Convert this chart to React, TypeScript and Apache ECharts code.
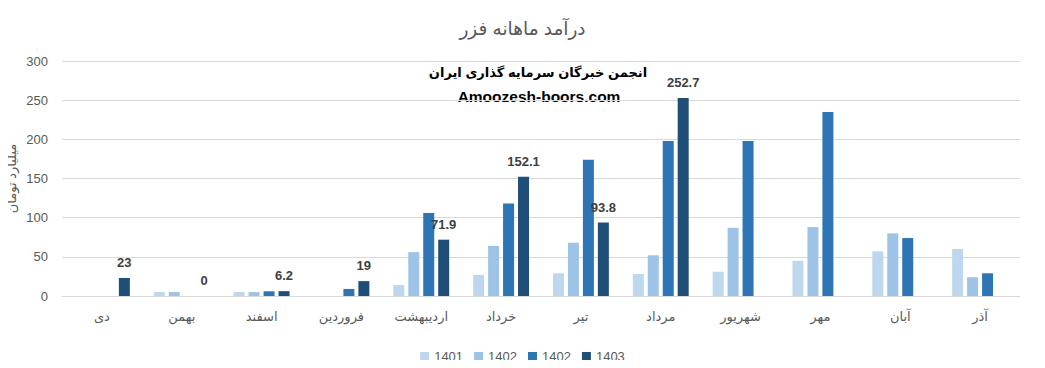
import React, { useEffect, useRef } from "react";
import * as echarts from "echarts";

const categories = ["دی", "بهمن", "اسفند", "فروردین", "اردیبهشت", "خرداد", "تیر", "مرداد", "شهریور", "مهر", "آبان", "آذر"];
const s1401 = [null, 5, 5, null, 14, 27, 29, 28, 31, 45, 57, 60];
const s1402 = [null, 5, 5, null, 56, 64, 68, 52, 87, 88, 80, 24];
const s1402b = [null, null, 6, 9, 106, 118, 174, 198, 198, 235, 74, 29];
const s1403 = [23, 0, 6.2, 19, 71.9, 152.1, 93.8, 252.7, null, null, null, null];
const yTicks = { min: 0, max: 300, interval: 50 };

const FONT = "'Liberation Sans', 'DejaVu Sans', sans-serif";
const GRAY = "#595959";

export default function App() {
  const ref = useRef<HTMLDivElement>(null);
  useEffect(() => {
    const chart = echarts.init(ref.current!, undefined, { renderer: "svg" });
    const mk = (id: string, data: (number | null)[], color: string, label: boolean) => ({
      type: "bar",
      name: id,
      data,
      itemStyle: { color },
      barGap: "36%",
      barCategoryGap: "30%",
      label: label
        ? { show: true, position: "top", distance: 9, fontFamily: FONT, fontSize: 13, fontWeight: "bold", color: "#404040" }
        : { show: false },
    });
    chart.setOption({
      animation: false,
      textStyle: { fontFamily: FONT },
      title: {
        text: "درآمد ماهانه فزر",
        left: "center",
        top: 14,
        textStyle: { fontSize: 18.5, fontWeight: "normal", color: GRAY, fontFamily: FONT },
      },
      grid: { left: 62, right: 25, top: 61, bottom: 72, outerBoundsMode: "none", containLabel: false },
      legend: {
        bottom: 0,
        left: "center",
        itemWidth: 9,
        itemHeight: 9,
        itemGap: 11,
        icon: "rect",
        textStyle: { fontSize: 13, color: GRAY, fontFamily: FONT },
        formatter: (n: string) => (n === "1402b" ? "1402" : n),
        data: ["1401", "1402", "1402b", "1403"],
      },
      xAxis: {
        type: "category",
        data: categories,
        axisTick: { show: false },
        axisLine: { lineStyle: { color: "#d9d9d9" } },
        axisLabel: { color: GRAY, fontSize: 13, margin: 14, fontFamily: FONT },
      },
      yAxis: {
        type: "value",
        min: yTicks.min,
        max: yTicks.max,
        interval: yTicks.interval,
        name: "میلیارد تومان",
        nameLocation: "middle",
        nameGap: 44,
        nameRotate: 90,
        nameMoveOverlap: false,
        nameTextStyle: { color: GRAY, fontSize: 13, fontFamily: FONT },
        axisLabel: { color: GRAY, fontSize: 13, margin: 14, fontFamily: FONT },
        splitLine: { lineStyle: { color: "#d9d9d9" } },
        axisLine: { show: false },
        axisTick: { show: false },
      },
      graphic: [
        {
          type: "text",
          x: 538,
          y: 72,
          style: {
            text: "انجمن خبرگان سرمایه گذاری ایران",
            fontSize: 13,
            fontWeight: "bold",
            fill: "#000",
            fontFamily: FONT,
            textAlign: "center",
            textVerticalAlign: "middle",
          },
        },
        {
          type: "text",
          x: 539,
          y: 96,
          style: {
            text: "Amoozesh-boors.com",
            fontSize: 15.5,
            fontWeight: "bold",
            fill: "#000",
            fontFamily: FONT,
            textAlign: "center",
            textVerticalAlign: "middle",
          },
        },
      ],
      series: [
        mk("1401", s1401, "#BDD7EE", false),
        mk("1402", s1402, "#9DC3E6", false),
        mk("1402b", s1402b, "#2E75B6", false),
        mk("1403", s1403, "#1F4E79", true),
      ],
    });
    return () => chart.dispose();
  }, []);
  return <div ref={ref} style={{ width: 1045, height: 368, margin: -8 }} />;
}
